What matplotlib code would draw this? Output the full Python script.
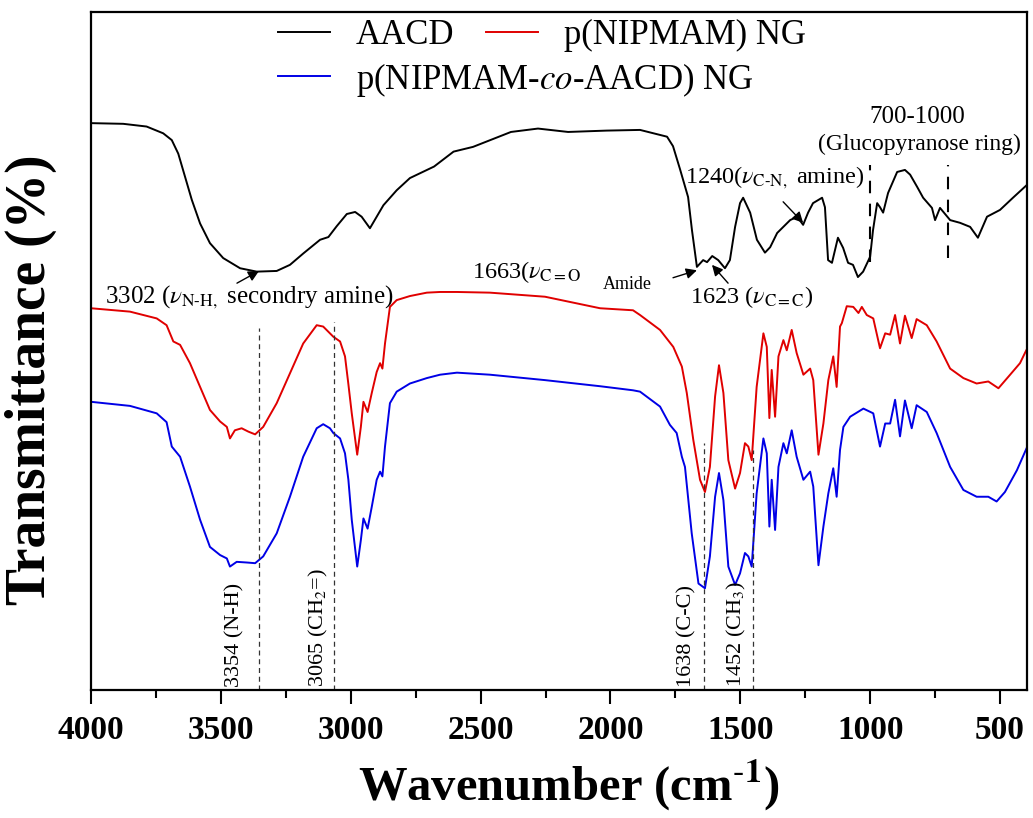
import numpy as np
import matplotlib
matplotlib.use('Agg')
import matplotlib.pyplot as plt
from matplotlib.ticker import MultipleLocator

plt.rcParams['font.family'] = ['Liberation Serif', 'DejaVu Serif']
plt.rcParams['mathtext.fontset'] = 'stix'

# AACD spectrum (wavenumber, transmittance, offset units)
wn_aacd = [4000, 3876, 3786, 3722, 3689, 3664, 3638, 3612, 3580, 3542, 3491, 3426, 3362, 3285,
           3234, 3182, 3118, 3086, 3054, 3015, 2983, 2958, 2926, 2900, 2874, 2823, 2772, 2679,
           2604, 2529, 2383, 2279, 2163, 2015, 1886,
           1782, 1759, 1732, 1701, 1686, 1667, 1643, 1628, 1608, 1585, 1559, 1540, 1520, 1501,
           1489, 1462, 1436, 1405, 1385, 1358, 1308, 1281, 1258, 1239, 1220, 1185, 1174, 1162,
           1147, 1124, 1104, 1085, 1066, 1047, 1027, 1000, 989, 973, 962, 950, 931, 896, 866,
           846, 819, 796, 762, 750, 731, 692, 654, 615, 585, 550, 500, 450, 396]
t_aacd = [83.6, 83.5, 83.1, 82.1, 81.1, 79.1, 75.7, 72.3, 68.8, 65.9, 63.7, 62.2, 61.7, 61.8,
          62.7, 64.4, 66.4, 66.8, 68.4, 70.2, 70.5, 69.8, 68.1, 69.8, 71.5, 73.7, 75.5, 77.2,
          79.4, 80.1, 82.3, 82.8, 82.3, 82.5, 82.6,
          81.6, 80.2, 76.8, 72.7, 67.8, 62.4, 63.4, 63.1, 64.0, 63.4, 62.2, 63.4, 68.3, 71.8,
          72.6, 70.4, 66.4, 64.5, 65.3, 67.4, 69.3, 69.8, 68.6, 70.4, 71.8, 72.6, 71.2, 63.4,
          63.0, 66.7, 65.2, 63.0, 62.7, 60.9, 61.7, 63.9, 67.8, 71.8, 71.2, 70.4, 73.3, 76.4, 76.7,
          76.0, 74.2, 72.6, 71.1, 69.3, 71.1, 69.3, 68.9, 68.3, 66.7, 69.8, 70.8, 72.6, 74.5]

# p(NIPMAM) NG
wn_ng = [4000, 3850, 3747, 3709, 3696, 3683, 3657, 3619, 3580, 3542, 3503, 3477, 3465, 3446,
         3420, 3394, 3368, 3337, 3285, 3234, 3183, 3131, 3106, 3080, 3067, 3041, 3022, 3009,
         2996, 2975, 2961, 2951, 2935, 2919, 2900, 2887, 2878, 2868, 2849, 2823, 2772, 2707,
         2656, 2591, 2464, 2252, 2040, 1913,
         1886, 1809, 1758, 1725, 1706, 1681, 1655, 1636, 1617, 1597, 1582, 1565, 1546, 1520,
         1501, 1482, 1469, 1456, 1437, 1411, 1398, 1388, 1379, 1366, 1353, 1334, 1321, 1302,
         1283, 1257, 1231, 1219, 1199, 1180, 1161, 1142, 1129, 1116,
         1109, 1090, 1065, 1045, 1032, 1013, 988, 962, 942, 923, 904, 885, 866, 840, 821, 782,
         744, 692, 641, 590, 545, 506, 461, 423, 404, 396]
t_ng = [56.3, 55.8, 54.8, 53.8, 52.6, 51.4, 50.9, 48.2, 44.7, 41.3, 39.6, 38.8, 37.1, 38.3,
        38.6, 38.1, 37.7, 38.8, 42.3, 46.7, 51.1, 53.8, 53.6, 52.6, 52.1, 51.4, 49.2, 45.1,
        40.8, 34.7, 38.8, 42.5, 41.0, 43.8, 46.9, 48.2, 47.4, 51.1, 56.5, 57.5, 58.1, 58.6,
        58.7, 58.7, 58.6, 58.0, 56.3, 56.0,
        55.3, 53.1, 50.6, 47.7, 43.8, 36.9, 31.0, 29.2, 32.9, 43.3, 47.9, 43.8, 33.9, 29.7,
        32.0, 36.4, 35.9, 33.9, 44.7, 52.6, 50.6, 40.1, 47.2, 40.3, 49.2, 51.6, 50.1, 53.1,
        49.7, 46.5, 47.4, 45.7, 34.7, 39.3, 45.7, 49.2, 44.7, 53.6,
        54.1, 56.6, 56.5, 55.6, 56.5, 55.3, 54.8, 50.4, 52.6, 52.4, 55.3, 51.1, 55.2, 51.9, 54.7, 53.8,
        51.4, 47.4, 46.0, 45.2, 45.5, 44.5, 46.5, 48.2, 49.7, 50.3]

# p(NIPMAM-co-AACD) NG
wn_co = [4000, 3850, 3747, 3709, 3689, 3657, 3619, 3580, 3542, 3503, 3477, 3465, 3439, 3400,
         3368, 3337, 3285, 3234, 3183, 3131, 3106, 3080, 3067, 3041, 3022, 3009, 2996, 2975,
         2961, 2951, 2935, 2919, 2900, 2887, 2878, 2868, 2849, 2823, 2772, 2707, 2656, 2591,
         2464, 2252, 2040, 1913,
         1886, 1809, 1771, 1745, 1725, 1713, 1687, 1661, 1636, 1617, 1597, 1582, 1565, 1546,
         1520, 1501, 1482, 1469, 1456, 1437, 1411, 1398, 1388, 1379, 1366, 1353, 1334, 1321,
         1302, 1283, 1257, 1231, 1219, 1199, 1180, 1161, 1142, 1129, 1116,
         1103, 1077, 1026, 988, 962, 942, 923, 904, 885, 866, 840, 821, 782, 744, 692, 641,
         590, 545, 513, 481, 435, 404, 396]
t_co = [42.5, 41.9, 40.8, 39.5, 35.9, 34.4, 30.0, 25.1, 21.1, 19.9, 19.4, 18.2, 18.9, 18.8,
        18.7, 19.7, 23.1, 28.5, 34.4, 38.6, 39.2, 38.6, 37.9, 37.1, 34.9, 31.0, 25.1, 18.2,
        22.1, 25.3, 23.8, 27.0, 31.0, 32.2, 31.5, 35.9, 42.3, 44.0, 45.2, 46.0, 46.5, 46.8,
        46.5, 45.7, 44.8, 44.2,
        44.0, 41.8, 39.1, 37.9, 34.4, 32.9, 23.1, 15.7, 15.0, 19.7, 28.5, 32.0, 28.0, 18.2,
        15.5, 17.2, 20.2, 19.7, 18.2, 29.0, 37.1, 34.9, 24.1, 31.0, 23.6, 32.9, 36.4, 34.9,
        38.3, 34.4, 31.0, 32.2, 30.0, 18.4, 24.1, 29.0, 32.7, 28.5, 35.4,
        38.8, 40.3, 41.5, 40.8, 35.9, 39.3, 39.3, 42.8, 37.4, 42.7, 38.6, 42.0, 41.0, 37.9, 32.9, 29.5,
        28.5, 28.5, 27.8, 29.2, 32.4, 35.1, 35.8]

labels = ['AACD', 'p(NIPMAM) NG', 'p(NIPMAM-$co$-AACD) NG']
colors = ['black', '#e00000', '#0000e6']
xticks = [4000, 3500, 3000, 2500, 2000, 1500, 1000, 500]
marked_bands = [3354, 3065, 1638, 1452]

fig = plt.figure(figsize=(10.33, 8.18), dpi=100)
ax = fig.add_axes([0.0881, 0.1565, 0.9061, 0.8289])

l1, = ax.plot(wn_aacd, t_aacd, color=colors[0], lw=1.4, label=labels[0])
l2, = ax.plot(wn_ng, t_ng, color=colors[1], lw=1.4, label=labels[1])
l3, = ax.plot(wn_co, t_co, color=colors[2], lw=1.4, label=labels[2])

ax.set_xlim(4000, 396)
ax.set_ylim(0, 100)
ax.set_xticks(xticks)
ax.xaxis.set_minor_locator(MultipleLocator(250))
ax.set_yticks([])
ax.tick_params(axis='x', which='major', direction='out', length=10, width=1.5, labelsize=24, pad=8)
ax.tick_params(axis='x', which='minor', direction='out', length=6, width=1.5)
for lbl in ax.get_xticklabels():
    lbl.set_fontweight('bold')
for s in ax.spines.values():
    s.set_linewidth(1.6)

ax.set_xlabel(r'Wavenumber (cm$^{\text{-}\mathbf{1}}$)', fontsize=35, fontweight='bold')
ax.xaxis.set_label_coords(0.51, -0.1)
ax.set_ylabel('Transmittance (%)', fontsize=40, fontweight='bold')
ax.yaxis.set_label_coords(-0.036, 0.457)

# legend
leg1 = ax.legend(handles=[l1, l2], loc='upper left', bbox_to_anchor=(0.269, 0.977),
                 bbox_transform=fig.transFigure, ncol=2, frameon=False, fontsize=25,
                 handlelength=1.5, handletextpad=0.75, columnspacing=0.9,
                 borderpad=0, borderaxespad=0)
ax.add_artist(leg1)
ax.legend(handles=[l3], loc='upper left', bbox_to_anchor=(0.269, 0.926),
          bbox_transform=fig.transFigure, frameon=False, fontsize=25,
          handlelength=1.5, handletextpad=0.75, borderpad=0, borderaxespad=0)

# dashed marker lines
tops = [53.4, 54.3, 36.4, 35.4]
for b, tp in zip(marked_bands, tops):
    ax.plot([b, b], [0, tp], color='#333333', lw=0.9, ls=(0, (4, 3)))
ax.plot([1000, 1000], [63.1, 77.4], color='black', lw=1.5, ls=(0, (6, 5)))
ax.plot([700, 700], [63.7, 77.4], color='black', lw=1.5, ls=(0, (6, 5)))

rot = dict(rotation=90, ha='center', va='bottom', fontsize=16)
ax.text(3446, 0.4, '3354 (N-H)', **rot)
ax.text(3126, 0.4, '3065 (CH$_2$=)', **rot)
ax.text(1705, 0.4, '1638 (C-C)', **rot)
ax.text(1516, 0.4, '1452 (CH$_3$)', **rot)

ax.text(819, 84.5, '700-1000', ha='center', va='center', fontsize=18)
ax.text(812, 80.5, '(Glucopyranose ring)', ha='center', va='center', fontsize=17)
ax.text(1713, 74.8, r'1240($\nu_{\mathrm{C\text{-}N},}$ amine)', ha='left', va='baseline', fontsize=17.5)
ax.text(1693, 57.1, r'1623 ($\nu_{\mathrm{C=C}}$)', ha='left', va='baseline', fontsize=17.5)
ax.text(2533, 60.8, r'1663($\nu_{\mathrm{C=O}}$', ha='left', va='baseline', fontsize=17.5)
ax.text(2028, 59.2, 'Amide', ha='left', va='baseline', fontsize=13)
ax.text(3946, 57.1, r'3302 ($\nu_{\mathrm{N\text{-}H},}$ secondry amine)', ha='left', va='baseline', fontsize=18)

arw = dict(arrowstyle='-|>', color='black', lw=1.0, mutation_scale=16, shrinkA=0, shrinkB=0)
ax.annotate('', xy=(1258, 68.9), xytext=(1335, 72.0), arrowprops=arw)
ax.annotate('', xy=(1609, 62.7), xytext=(1547, 60.0), arrowprops=arw)
ax.annotate('', xy=(1667, 61.9), xytext=(1759, 60.8), arrowprops=arw)
ax.annotate('', xy=(3353, 61.8), xytext=(3438, 60.0), arrowprops=arw)

fig.savefig('out.png', dpi=100)
